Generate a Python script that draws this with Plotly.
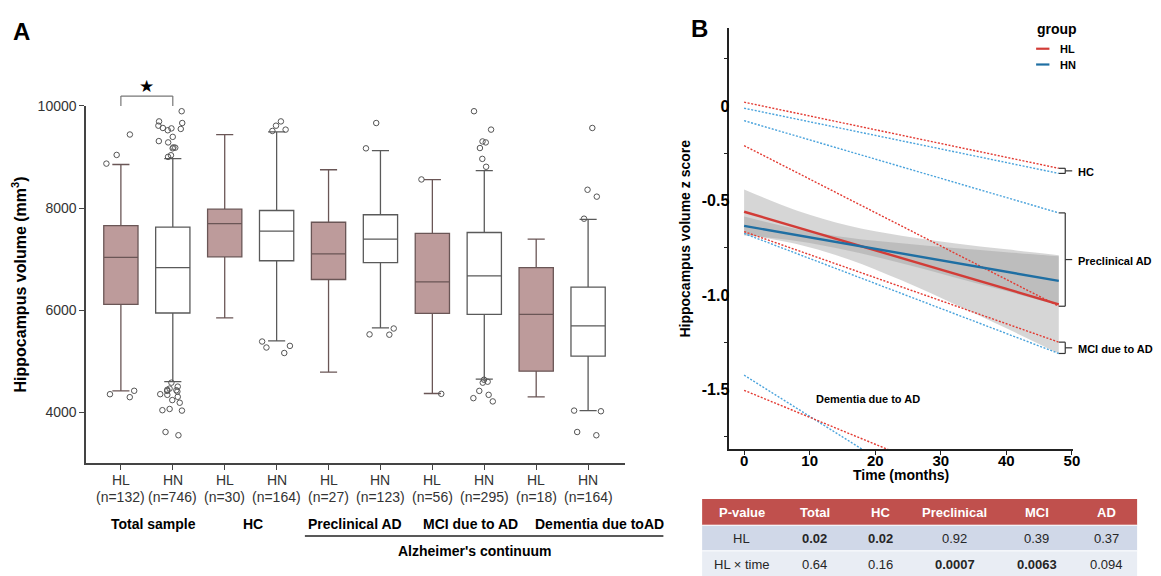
import plotly.graph_objects as go

W, H = 1161, 576
FONT = "Liberation Sans, Arial, sans-serif"

# ---------------- Panel A data ----------------
groups_a = ["HL", "HN", "HL", "HN", "HL", "HN", "HL", "HN", "HL", "HN"]
n_a = [132, 746, 30, 164, 27, 123, 56, 295, 18, 164]
lowerfence = [4419, 4598, 5847, 5397, 4785, 5654, 4367, 4650, 4302, 4032]
q1 = [6111, 5944, 7045, 6967, 6600, 6929, 5937, 5918, 4804, 5100]
median = [7032, 6833, 7695, 7547, 7103, 7392, 6555, 6671, 5918, 5693]
q3 = [7656, 7625, 7978, 7952, 7721, 7868, 7502, 7521, 6832, 6452]
upperfence = [8853, 8969, 9439, 9491, 8750, 9124, 8557, 8731, 7392, 7778]
outliers = [
    [9440, 9040, 8870, 4420, 4295, 4353],
    [9896, 9697, 9665, 9613, 9568, 9549, 9523, 9560, 9394, 9311, 9285, 9188, 9169,
     9182, 9002, 9034, 4579, 4431, 4440, 4463, 4502, 4418, 4405, 4302, 4354, 4341,
     4186, 4238, 4032, 4040, 4064, 3549, 3613],
    [],
    [9613, 9697, 9510, 9536, 5385, 5160, 5268, 5300],
    [],
    [9665, 9169, 5640, 5519, 5525],
    [8560, 4360],
    [9896, 9536, 9285, 9304, 9175, 8963, 8808, 4637, 4579, 4598, 4341, 4418, 4212, 4276],
    [],
    [9568, 8358, 8223, 7791, 4032, 4019, 3549, 3613],
]
group_labels_a = ["Total sample", "HC", "Preclinical AD", "MCI due to AD", "Dementia due toAD"]
yticks_a = [4000, 6000, 8000, 10000]

# ---------------- Panel B data ----------------
time_span = [0, 48]
cohorts = ["HC", "Preclinical AD", "MCI due to AD"]
hl_start = [0.02, -0.21, -0.665, -1.505]
hl_end = [-0.33, -1.06, -1.25, -2.19]
hn_start = [-0.012, -0.078, -0.675, -1.425]
hn_end = [-0.357, -0.566, -1.31, -2.47]
total_hl = [-0.56, -1.05]
total_hn = [-0.635, -0.926]
ci_time = [0, 8, 16, 24, 32, 40, 48]
hl_ci_low = [-0.678, -0.731, -0.812, -0.923, -1.048, -1.177, -1.31]
hl_ci_high = [-0.442, -0.553, -0.634, -0.687, -0.726, -0.759, -0.79]
hn_ci_low = [-0.685, -0.715, -0.766, -0.833, -0.906, -0.980, -1.056]
hn_ci_high = [-0.585, -0.651, -0.698, -0.727, -0.752, -0.774, -0.796]
yticks_b = [0, -0.5, -1.0, -1.5]
yticklabels_b = ["0", "-0.5", "-1.0", "-1.5"]
yminor_b = [0.25, -0.25, -0.75, -1.25, -1.75]
xticks_b = [0, 10, 20, 30, 40, 50]

# ---------------- Table data ----------------
table_header = ["P-value", "Total", "HC", "Preclinical", "MCI", "AD"]
table_rows = [["HL", "0.02", "0.02", "0.92", "0.39", "0.37"],
              ["HL × time", "0.64", "0.16", "0.0007", "0.0063", "0.094"]]
significant = [[False, True, True, False, False, False],
               [False, False, False, True, True, False]]

# ---------------- colours ----------------
HL_FILL = "#bd9b9b"
HL_LINE = "#6a5656"
HN_LINE = "#5a5a5a"
RED = "#d23c37"
BLUE = "#1f6fa3"
RED_DOT = "#e33a32"
BLUE_DOT = "#4aa3dc"
ROW_FILLS = ["#d0d8e8", "#e9edf4"]

# ---------------- geometry (pixels) ----------------
A_X = (86.7, 629.3)
A_Y = (461.7, 99.3)
A_XR = [-0.67, 9.71]
A_YR = [3000, 10000]
B_X = (734.3, 1080.0)
B_Y = (447.3, 20.0)
B_XR = [-2.27, 50.1]
B_YR = [-1.816, 0.414]
TABLE_COLS = [707, 787, 854, 919, 1004, 1084, 1145]
TABLE_ROWS = [498, 524.5, 550.5, 577]


def px(x):
    return x / W


def py(y):
    return 1 - y / H


def data_px(v, rng, dom):
    return dom[0] + (v - rng[0]) / (rng[1] - rng[0]) * (dom[1] - dom[0])


fig = go.Figure()

# ---------------- Panel A boxes ----------------
for i in range(len(groups_a)):
    hl = groups_a[i] == "HL"
    fig.add_trace(go.Box(
        x=[i], q1=[q1[i]], median=[median[i]], q3=[q3[i]],
        lowerfence=[lowerfence[i]], upperfence=[upperfence[i]],
        boxpoints=False, width=0.66, whiskerwidth=0.5,
        fillcolor=HL_FILL if hl else "white",
        line=dict(color=HL_LINE if hl else HN_LINE, width=1.3),
        xaxis="x", yaxis="y", hoverinfo="skip"))
    if outliers[i]:
        fig.add_trace(go.Box(
            x=[i] * len(outliers[i]), y=outliers[i], boxpoints="all", jitter=1.0,
            pointpos=0, width=0.66, fillcolor="rgba(0,0,0,0)",
            line=dict(color="rgba(0,0,0,0)", width=0),
            marker=dict(symbol="circle-open", size=5.5, color="#555",
                        line=dict(width=1, color="#555")),
            xaxis="x", yaxis="y", hoverinfo="skip"))

# ---------------- Panel B ----------------
for low, high in ((hl_ci_low, hl_ci_high), (hn_ci_low, hn_ci_high)):
    fig.add_trace(go.Scatter(x=ci_time, y=low, mode="lines", line=dict(width=0, shape="spline"),
                             xaxis="x2", yaxis="y2", hoverinfo="skip"))
    fig.add_trace(go.Scatter(x=ci_time, y=high, mode="lines", line=dict(width=0, shape="spline"),
                             fill="tonexty", fillcolor="rgba(153,153,153,0.4)",
                             xaxis="x2", yaxis="y2", hoverinfo="skip"))

for k in range(len(hl_start)):
    fig.add_trace(go.Scatter(x=time_span, y=[hn_start[k], hn_end[k]], mode="lines",
                             line=dict(color=BLUE_DOT, width=1.4, dash="2px,1.6px"),
                             xaxis="x2", yaxis="y2", hoverinfo="skip"))
    fig.add_trace(go.Scatter(x=time_span, y=[hl_start[k], hl_end[k]], mode="lines",
                             line=dict(color=RED_DOT, width=1.4, dash="2px,1.6px"),
                             xaxis="x2", yaxis="y2", hoverinfo="skip"))

fig.add_trace(go.Scatter(x=time_span, y=total_hl, mode="lines", line=dict(color=RED, width=2.4),
                         xaxis="x2", yaxis="y2", hoverinfo="skip"))
fig.add_trace(go.Scatter(x=time_span, y=total_hn, mode="lines", line=dict(color=BLUE, width=2.4),
                         xaxis="x2", yaxis="y2", hoverinfo="skip"))

# ---------------- annotations & shapes ----------------
ann = []
shapes = []


def text(t, x, y, size, bold=False, xa="center", ya="middle", color="black", angle=0):
    ann.append(dict(text=f"<b>{t}</b>" if bold else t, x=px(x), y=py(y), xref="paper", yref="paper",
                    showarrow=False, xanchor=xa, yanchor=ya, textangle=angle,
                    font=dict(family=FONT, size=size, color=color)))


def line(x0, y0, x1, y1, color="black", width=1.5):
    shapes.append(dict(type="line", xref="paper", yref="paper", x0=px(x0), y0=py(y0),
                       x1=px(x1), y1=py(y1), line=dict(color=color, width=width)))


def rect(x0, y0, x1, y1, fill):
    shapes.append(dict(type="rect", xref="paper", yref="paper", x0=px(x0), y0=py(y0),
                       x1=px(x1), y1=py(y1), fillcolor=fill, line=dict(width=0), layer="below"))


# panel labels
text("A", 22, 24, 24, bold=True)
text("B", 704, 21, 24, bold=True)

# panel A category labels (two lines) placed under each box via x data
for i, (g, n) in enumerate(zip(groups_a, n_a)):
    ann.append(dict(text=g, x=i, y=py(479), xref="x", yref="paper", showarrow=False,
                    xanchor="center", yanchor="middle", font=dict(family=FONT, size=14, color="#333")))
    ann.append(dict(text=f"(n={n})", x=i, y=py(495.5), xref="x", yref="paper", showarrow=False,
                    xanchor="center", yanchor="middle", font=dict(family=FONT, size=14, color="#333")))

# panel A titles
text("Hippocampus volume (mm<sup>3</sup>)", 19, 280.5, 16, bold=True, angle=-90)
for lab, xc in zip(group_labels_a, [155, 254.3, 357, 473.4, 604]):
    text(lab, xc, 523, 14, bold=True)
line(307, 535.5, 668, 535.5, color="#222", width=1.5)
text("Alzheimer's continuum", 478, 550.5, 14, bold=True)

# significance bracket between first two boxes
bx0 = data_px(0, A_XR, A_X)
bx1 = data_px(1, A_XR, A_X)
line(bx0, 99.5, bx0, 89.3, color="#777", width=1.2)
line(bx0, 89.3, bx1, 89.3, color="#777", width=1.2)
line(bx1, 89.3, bx1, 99.5, color="#777", width=1.2)
text("★", (bx0 + bx1) / 2, 80, 17)

# panel B titles
text("Hippocampus volume z score", 690, 233.6, 14, bold=True, angle=-90)
text("Time (months)", 907, 474, 14, bold=True)

# legend
text("group", 1041.7, 21.5, 14, bold=True, xa="left")
line(1043.3, 41.3, 1056.7, 41.3, color=RED, width=2.2)
line(1043.3, 57.3, 1056.7, 57.3, color=BLUE, width=2.2)
text("HL", 1065.5, 42, 11, bold=True, xa="left")
text("HN", 1065.5, 58, 11, bold=True, xa="left")

# cohort brackets
x_end = data_px(time_span[1], B_XR, B_X)
for k, name in enumerate(cohorts):
    ya = data_px(max(hl_end[k], hn_end[k]), B_YR, B_Y)
    yb = data_px(min(hl_end[k], hn_end[k]), B_YR, B_Y)
    xv = x_end + 6.5
    line(x_end, ya, xv, ya, color="#333", width=1.2)
    line(x_end, yb, xv, yb, color="#333", width=1.2)
    line(xv, ya, xv, yb, color="#333", width=1.2)
    ym = (ya + yb) / 2
    line(xv, ym, xv + 7, ym, color="#333", width=1.2)
    text(name, xv + 11, ym + 1.5, 11, bold=True, xa="left")

# Dementia label
ann.append(dict(text="<b>Dementia due to AD</b>", x=18.9, y=-1.552, xref="x2", yref="y2",
                showarrow=False, font=dict(family=FONT, size=11, color="black")))

# ---------------- Table (drawn as cells) ----------------
rect(TABLE_COLS[0], TABLE_ROWS[0], TABLE_COLS[-1], TABLE_ROWS[1], "#c0504d")
for r in range(len(table_rows)):
    rect(TABLE_COLS[0], TABLE_ROWS[r + 1], TABLE_COLS[-1], TABLE_ROWS[r + 2], ROW_FILLS[r])
    line(TABLE_COLS[0], TABLE_ROWS[r + 1], TABLE_COLS[-1], TABLE_ROWS[r + 1], color="white", width=1)
for c, h in enumerate(table_header):
    xc = (TABLE_COLS[c] + TABLE_COLS[c + 1]) / 2
    text(h, xc, (TABLE_ROWS[0] + TABLE_ROWS[1]) / 2 + 0.5, 13, bold=True, color="white")
    for r in range(len(table_rows)):
        text(table_rows[r][c], xc, (TABLE_ROWS[r + 1] + TABLE_ROWS[r + 2]) / 2 + 0.5, 13,
             bold=significant[r][c], color="#262626")

fig.update_layout(
    width=W, height=H, margin=dict(l=0, r=0, t=0, b=0),
    paper_bgcolor="white", plot_bgcolor="rgba(0,0,0,0)", showlegend=False, boxmode="overlay",
    font=dict(family=FONT, size=14, color="#333"),
    xaxis=dict(domain=[px(A_X[0]), px(A_X[1])], range=A_XR, anchor="y",
               tickmode="array", tickvals=list(range(len(groups_a))), showticklabels=False,
               ticks="outside", ticklen=5, tickwidth=1.3, tickcolor="#444",
               showline=True, linecolor="#444", linewidth=1.5, showgrid=False, zeroline=False),
    yaxis=dict(domain=[py(A_Y[0]), py(A_Y[1])], range=A_YR, anchor="x",
               tickmode="array", tickvals=yticks_a, ticktext=[str(v) for v in yticks_a],
               ticks="outside", ticklen=5, tickwidth=1.3, tickcolor="#444",
               showline=True, linecolor="#444", linewidth=1.5, showgrid=False, zeroline=False,
               tickfont=dict(family=FONT, size=14, color="#333")),
    xaxis2=dict(domain=[px(B_X[0]), px(B_X[1])], range=B_XR, anchor="y2",
                tickmode="array", tickvals=xticks_b, ticklabelstandoff=-7,
                ticks="outside", ticklen=4, tickwidth=1.3, tickcolor="#222",
                showline=True, linecolor="#222", linewidth=1.5, showgrid=False, zeroline=False,
                tickfont=dict(family=FONT, size=15, color="black", weight="bold")),
    yaxis2=dict(domain=[py(B_Y[0]), py(B_Y[1])], range=B_YR, anchor="x2",
                tickmode="array", tickvals=yticks_b, ticktext=yticklabels_b, ticklabelstandoff=-5,
                ticks="", showline=True, linecolor="#222", linewidth=1.5,
                showgrid=False, zeroline=False,
                minor=dict(tickmode="array", tickvals=yminor_b, ticks="outside", ticklen=3,
                           tickwidth=1.2, tickcolor="#222", showgrid=False),
                tickfont=dict(family=FONT, size=16, color="black", weight="bold")),
    annotations=ann, shapes=shapes,
)

fig.write_html("out.html")
